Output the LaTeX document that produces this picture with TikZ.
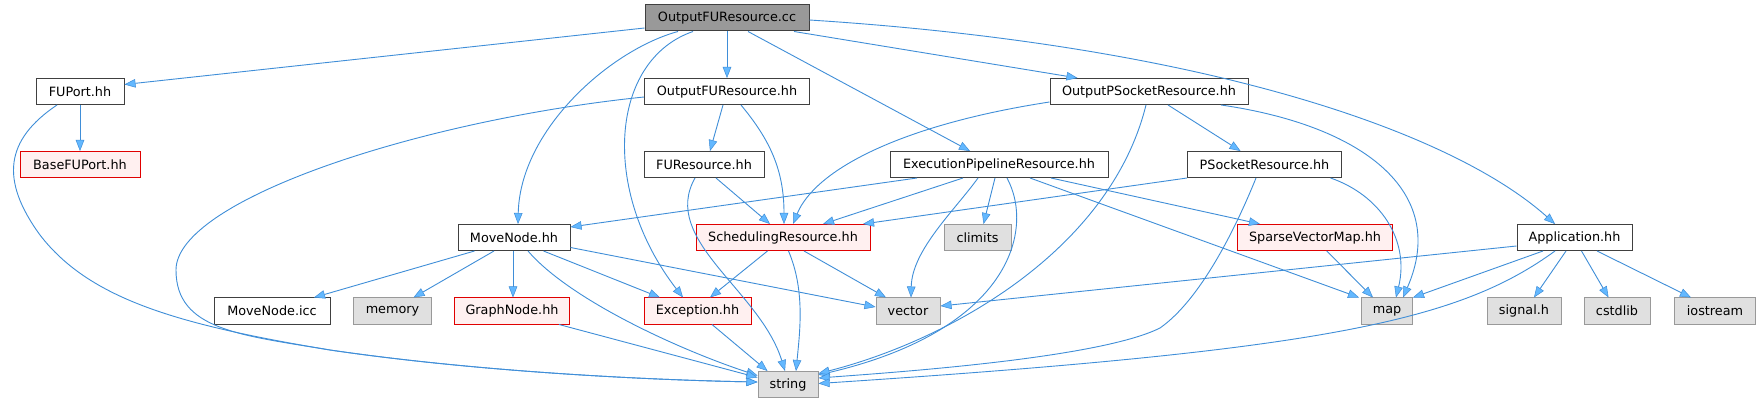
\documentclass[tikz,border=0pt]{standalone}
\usepackage{fontspec}
\setmainfont{DejaVu Sans}
\usetikzlibrary{arrows.meta}
\definecolor{edgec}{HTML}{63B8FF}
\definecolor{edgeline}{HTML}{3F8ED8}
\definecolor{gr25}{HTML}{404040}
\definecolor{gr60}{HTML}{999999}
\definecolor{redfill}{HTML}{FFF0F0}
\definecolor{extfill}{HTML}{E0E0E0}
\definecolor{redline}{HTML}{E00000}
\begin{document}
\begin{tikzpicture}[x=1pt,y=-1pt,
  box/.style={draw=gr25, fill=white, line width=1pt, inner sep=0pt, minimum height=26pt, font=\fontsize{12.8}{15}\selectfont, anchor=center},
  rootbox/.style={box, fill=gr60},
  redbox/.style={box, draw=redline, fill=redfill},
  extbox/.style={box, draw=gr60, fill=extfill},
  dep/.style={draw=edgeline, line width=0.9pt, -{Triangle[length=11pt,width=8.5pt,fill=edgec,line width=0.5pt]}},
]
\useasboundingbox[fill=white] (0,0) rectangle (1761,403);

\node[rootbox, minimum width=164pt] (root) at (727,18) {OutputFUResource.cc};
\node[box, minimum width=88pt] (fuport) at (80,91.5) {FUPort.hh};
\node[redbox, minimum width=120pt] (basefuport) at (80,164.5) {BaseFUPort.hh};
\node[box, minimum width=165pt] (ofrhh) at (727,91.5) {OutputFUResource.hh};
\node[box, minimum width=198pt] (ops) at (1149,91.5) {OutputPSocketResource.hh};
\node[box, minimum width=120pt] (fures) at (704,164.5) {FUResource.hh};
\node[box, minimum width=218pt] (epr) at (999,164.5) {ExecutionPipelineResource.hh};
\node[box, minimum width=154pt] (psock) at (1264.5,164.5) {PSocketResource.hh};
\node[box, minimum width=112pt] (movenode) at (514,237.5) {MoveNode.hh};
\node[redbox, minimum width=174pt] (sched) at (783,237.5) {SchedulingResource.hh};
\node[extbox, minimum width=67pt] (climits) at (977.5,237.5) {climits};
\node[redbox, minimum width=155pt] (svm) at (1315,237.5) {SparseVectorMap.hh};
\node[box, minimum width=115pt] (app) at (1574.5,237.5) {Application.hh};
\node[box, minimum width=116pt] (icc) at (272,311) {MoveNode.icc};
\node[extbox, minimum width=78pt] (memory) at (392.5,311) {memory};
\node[redbox, minimum width=115pt] (graphnode) at (512,311) {GraphNode.hh};
\node[redbox, minimum width=107pt] (exception) at (697.5,311) {Exception.hh};
\node[extbox, minimum width=64pt] (vector) at (908,311) {vector};
\node[extbox, minimum width=51pt] (map) at (1387,311) {map};
\node[extbox, minimum width=74pt] (signal) at (1524,311) {signal.h};
\node[extbox, minimum width=66pt] (cstdlib) at (1617,311) {cstdlib};
\node[extbox, minimum width=81pt] (iostream) at (1715,311) {iostream};
\node[extbox, minimum width=60pt] (string) at (788,384.5) {string};

% root
\draw[dep] ([yshift=-10pt]root.west) -- ([yshift=7pt]fuport.east);
\draw[dep] (root.south) -- (ofrhh.north);
\draw[dep] ([xshift=-49pt]root.south) .. controls (610,50) and (520,130) .. ([xshift=4pt]movenode.north);
\draw[dep] ([xshift=-34pt]root.south) .. controls (610,60) and (600,190) .. ([xshift=-14.5pt]exception.north);
\draw[dep] ([xshift=21pt]root.south) -- ([xshift=-29pt]epr.north);
\draw[dep] ([xshift=67pt]root.south) -- ([xshift=-71.5pt]ops.north);
\draw[dep] ([yshift=-2pt]root.east) .. controls (1200,45) and (1450,130) .. ([xshift=-19.5pt]app.north);

% FUPort
\draw[dep] (fuport.south) -- (basefuport.north);
\draw[dep] ([xshift=-23pt]fuport.south) .. controls (5,140) and (0,180) .. (40,235)
  .. controls (90,300) and (180,325) .. (330,350)
  .. controls (480,372) and (650,380) .. ([yshift=2.5pt]string.west);

% OutputFUResource.hh
\draw[dep] ([xshift=-4pt]ofrhh.south) -- ([xshift=6pt]fures.north);
\draw[dep] ([xshift=14pt]ofrhh.south) .. controls (770,140) and (784,170) .. ([xshift=1pt]sched.north);
\draw[dep] ([yshift=-5.5pt]ofrhh.west) .. controls (420,120) and (176,200) .. (176,270)
  .. controls (176,330) and (240,335) .. (330,350)
  .. controls (480,372) and (650,380) .. ([yshift=2.5pt]string.west);

% FUResource
\draw[dep] ([xshift=12pt]fures.south) -- ([xshift=-13pt]sched.north);
\draw[dep] ([xshift=-9pt]fures.south) .. controls (660,240) and (760,290) .. ([xshift=-3pt]string.north);

% ExecutionPipelineResource
\draw[dep] ([xshift=-82pt]epr.south) -- ([yshift=10.5pt]movenode.east);
\draw[dep] ([xshift=-36pt]epr.south) -- ([xshift=40pt]sched.north);
\draw[dep] ([xshift=-4pt]epr.south) -- ([xshift=6pt]climits.north);
\draw[dep] ([xshift=-21pt]epr.south) .. controls (955,210) and (912,250) .. ([xshift=3pt]vector.north);
\draw[dep] ([xshift=8pt]epr.south) .. controls (1035,230) and (1010,330) .. ([yshift=9.5pt]string.east);
\draw[dep] ([xshift=31pt]epr.south) -- ([xshift=-28pt]map.north);
\draw[dep] ([xshift=52pt]epr.south) -- ([xshift=-55pt]svm.north);

% OutputPSocketResource
\draw[dep] ([yshift=-10.5pt]ops.west) .. controls (900,125) and (815,170) .. ([xshift=10pt]sched.north);
\draw[dep] ([xshift=-3pt]ops.south) .. controls (1110,250) and (950,340) .. ([yshift=11pt]string.east);
\draw[dep] ([xshift=19pt]ops.south) -- ([xshift=-24pt]psock.north);
\draw[dep] ([xshift=72pt]ops.south) .. controls (1360,125) and (1450,190) .. ([xshift=16pt]map.north);

% PSocketResource
\draw[dep] (psock.south west) -- ([xshift=80pt]sched.north);
\draw[dep] ([xshift=-8.5pt]psock.south) .. controls (1235,230) and (1200,300) .. (1160,328)
  .. controls (1100,358) and (900,372) .. ([yshift=6.5pt]string.east);
\draw[dep] ([xshift=66pt]psock.south) .. controls (1380,195) and (1410,240) .. ([xshift=9pt]map.north);

% SparseVectorMap
\draw[dep] ([xshift=11.7pt]svm.south) -- ([xshift=-14pt]map.north);

% Application
\draw[dep] ([yshift=-8.5pt]app.west) -- ([yshift=5pt]vector.east);
\draw[dep] ([xshift=-31.5pt]app.south) -- (map.north east);
\draw[dep] ([xshift=-19.5pt]app.south) .. controls (1460,320) and (1330,350) .. ([yshift=1pt]string.east);
\draw[dep] ([xshift=-8.5pt]app.south) -- ([xshift=10pt]signal.north);
\draw[dep] ([xshift=7pt]app.south) -- ([xshift=-8.5pt]cstdlib.north);
\draw[dep] ([xshift=22.5pt]app.south) -- ([xshift=-24pt]iostream.north);

% MoveNode
\draw[dep] ([xshift=-39.5pt]movenode.south) -- ([xshift=42pt]icc.north);
\draw[dep] ([xshift=-20pt]movenode.south) -- ([xshift=21pt]memory.north);
\draw[dep] ([xshift=-1pt]movenode.south) -- ([xshift=1pt]graphnode.north);
\draw[dep] ([xshift=14pt]movenode.south) .. controls (570,300) and (680,350) .. ([yshift=9pt]string.west);
\draw[dep] ([xshift=29.5pt]movenode.south) -- ([xshift=-37.5pt]exception.north);
\draw[dep] ([yshift=-10pt]movenode.east) -- ([yshift=4pt]vector.west);

% GraphNode, Exception
\draw[dep] ([xshift=47pt]graphnode.south) -- ([yshift=7pt]string.west);
\draw[dep] ([xshift=14.5pt]exception.south) -- ([xshift=-20.5pt]string.north);

% SchedulingResource
\draw[dep] ([xshift=-15.5pt]sched.south) -- ([xshift=12.5pt]exception.north);
\draw[dep] ([xshift=5.5pt]sched.south) .. controls (805,290) and (800,330) .. ([xshift=8pt]string.north);
\draw[dep] ([xshift=21pt]sched.south) -- ([xshift=-22pt]vector.north);
\end{tikzpicture}
\end{document}
